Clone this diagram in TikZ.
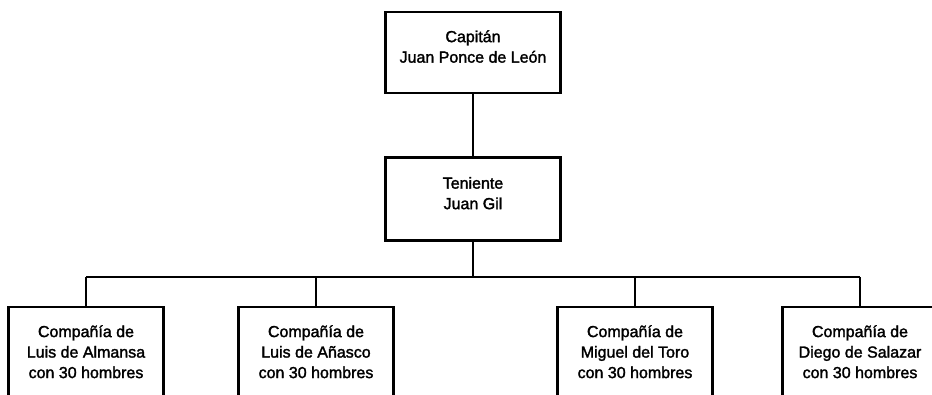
\documentclass[tikz,border=0pt]{standalone}
\usepackage{fontspec}
\setmainfont{Liberation Sans}[FakeBold=1.8]
\usetikzlibrary{positioning}

\begin{document}
\begin{tikzpicture}[
    box/.style={draw, line width=2.6pt, minimum width=175pt, minimum height=81pt,
        align=center, text depth=12pt, font=\fontsize{16}{20.5}\selectfont},
    compbox/.style={box, minimum width=155pt, minimum height=106pt, text depth=17pt},
    link/.style={line width=1.6pt},
    ]
    \clip (0,0) rectangle (932pt,-395pt);
    \useasboundingbox (0,0) rectangle (932pt,-395pt);

    \node [box] (cap) at (473pt,-52.5pt) {Capitán\\Juan Ponce de León};
    \node [box, below=62pt of cap, minimum height=83pt] (ten) {Teniente\\Juan Gil};
    \node [compbox, below=64pt of ten, xshift=-387pt] (almansa) {Compañía de\\Luis de Almansa\\con 30 hombres};
    \node [compbox, below=64pt of ten, xshift=-157pt] (anasco) {Compañía de\\Luis de Añasco\\con 30 hombres};
    \node [compbox, below=64pt of ten, xshift=162pt] (toro) {Compañía de\\Miguel del Toro\\con 30 hombres};
    \node [compbox, below=64pt of ten, xshift=387pt] (salazar) {Compañía de\\Diego de Salazar\\con 30 hombres};
    \coordinate [below=35pt of ten.south] (bar);

    \draw [link] (cap.south) -- (ten.north);
    \draw [link] (ten.south) -- (bar);
    \draw [link] (almansa.north |- bar) -- (salazar.north |- bar);
    \foreach \c in {almansa,anasco,toro,salazar}
        \draw [link] (\c.north) -- (\c.north |- bar);
\end{tikzpicture}
\end{document}
